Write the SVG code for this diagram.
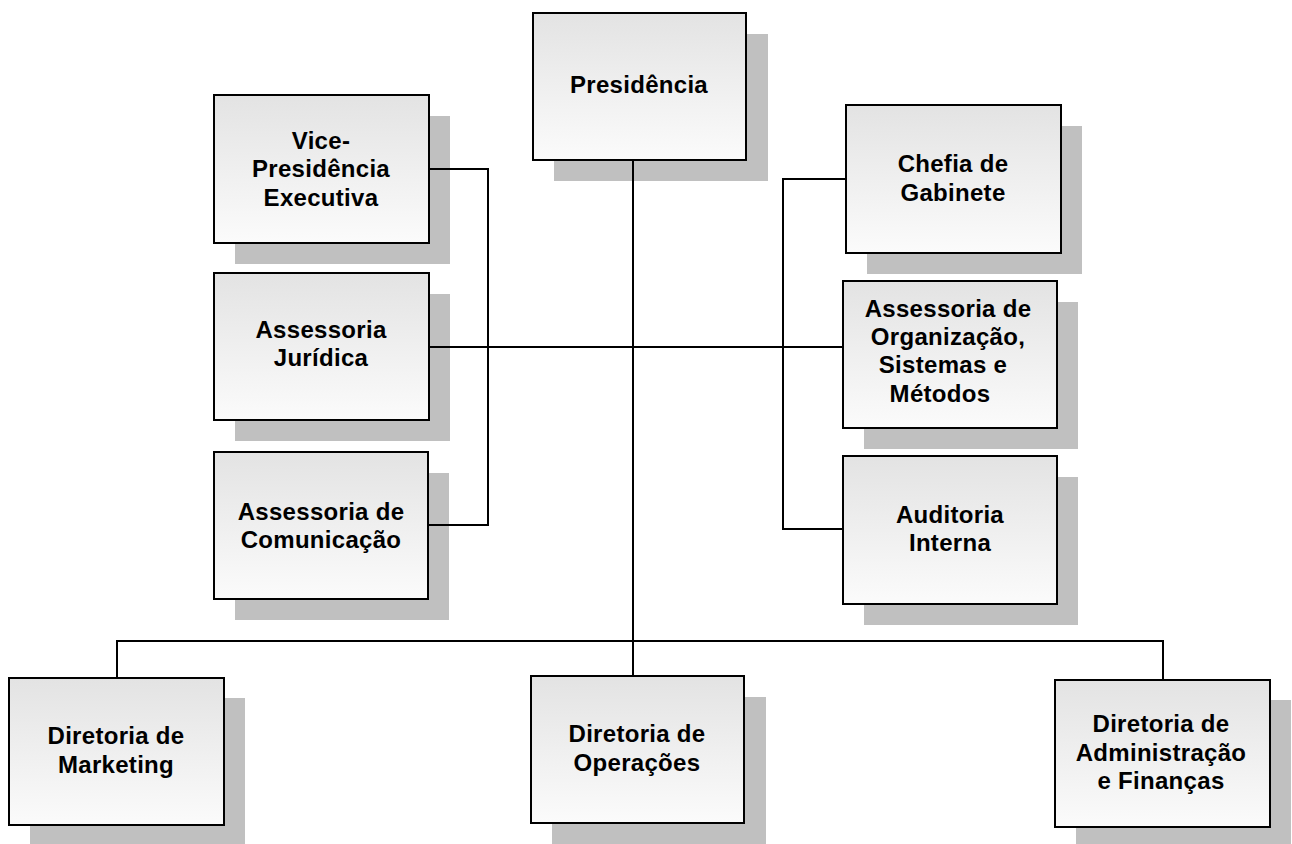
<svg xmlns="http://www.w3.org/2000/svg" width="1292" height="844" viewBox="0 0 1292 844">
  <defs>
    <linearGradient id="boxfill" x1="0" y1="0" x2="0" y2="1">
      <stop offset="0" stop-color="#e3e3e3"/>
      <stop offset="1" stop-color="#fbfbfb"/>
    </linearGradient>
    <style>
      .shadow { fill: #c0c0c0; }
      .box { fill: url(#boxfill); stroke: #000; stroke-width: 2; }
      .lbl { font-family: "Liberation Sans", Arial, sans-serif; font-weight: bold; font-size: 24px; letter-spacing: 0.3px; fill: #000; text-anchor: middle; }
      .conn { fill: none; stroke: #000; stroke-width: 2; }
    </style>
  </defs>
  <rect width="1292" height="844" fill="#fff"/>

  <g id="presidencia">
    <rect class="shadow" x="554" y="34" width="214" height="147"/>
    <rect class="box" x="533" y="13" width="213" height="147"/>
    <text class="lbl" x="639" y="93">Presidência</text>
  </g>

  <g id="vice-presidencia">
    <rect class="shadow" x="235" y="116" width="215" height="148"/>
    <rect class="box" x="214" y="95" width="215" height="148"/>
    <text class="lbl" x="321" y="149">Vice-</text>
    <text class="lbl" x="321" y="177">Presidência</text>
    <text class="lbl" x="321" y="206">Executiva</text>
  </g>

  <g id="assessoria-juridica">
    <rect class="shadow" x="235" y="294" width="215" height="147"/>
    <rect class="box" x="214" y="273" width="215" height="147"/>
    <text class="lbl" x="321" y="338">Assessoria</text>
    <text class="lbl" x="321" y="366">Jurídica</text>
  </g>

  <g id="assessoria-comunicacao">
    <rect class="shadow" x="235" y="473" width="214" height="147"/>
    <rect class="box" x="214" y="452" width="214" height="147"/>
    <text class="lbl" x="321" y="520">Assessoria de</text>
    <text class="lbl" x="321" y="548">Comunicação</text>
  </g>

  <g id="chefia-gabinete">
    <rect class="shadow" x="867" y="126" width="215" height="148"/>
    <rect class="box" x="846" y="105" width="215" height="148"/>
    <text class="lbl" x="953" y="172">Chefia de</text>
    <text class="lbl" x="953" y="201">Gabinete</text>
  </g>

  <g id="assessoria-osm">
    <rect class="shadow" x="864" y="302" width="214" height="147"/>
    <rect class="box" x="843" y="281" width="214" height="147"/>
    <text class="lbl" x="948" y="317">Assessoria de</text>
    <text class="lbl" x="948" y="345">Organização,</text>
    <text class="lbl" x="943" y="373">Sistemas e</text>
    <text class="lbl" x="940" y="402">Métodos</text>
  </g>

  <g id="auditoria-interna">
    <rect class="shadow" x="864" y="477" width="214" height="148"/>
    <rect class="box" x="843" y="456" width="214" height="148"/>
    <text class="lbl" x="950" y="523">Auditoria</text>
    <text class="lbl" x="950" y="551">Interna</text>
  </g>

  <g id="diretoria-marketing">
    <rect class="shadow" x="30" y="698" width="215" height="147"/>
    <rect class="box" x="9" y="678" width="215" height="147"/>
    <text class="lbl" x="116" y="744">Diretoria de</text>
    <text class="lbl" x="116" y="773">Marketing</text>
  </g>

  <g id="diretoria-operacoes">
    <rect class="shadow" x="552" y="697" width="214" height="147"/>
    <rect class="box" x="531" y="676" width="213" height="147"/>
    <text class="lbl" x="637" y="742">Diretoria de</text>
    <text class="lbl" x="637" y="771">Operações</text>
  </g>

  <g id="diretoria-administracao">
    <rect class="shadow" x="1076" y="700" width="215" height="147"/>
    <rect class="box" x="1055" y="680" width="215" height="147"/>
    <text class="lbl" x="1161" y="732">Diretoria de</text>
    <text class="lbl" x="1161" y="761">Administração</text>
    <text class="lbl" x="1161" y="789">e Finanças</text>
  </g>

  <g id="connectors">
    <path class="conn" d="M633 161 V675"/>
    <path class="conn" d="M430 169 H488 V525 H429"/>
    <path class="conn" d="M430 347 H842"/>
    <path class="conn" d="M845 179 H783 V529 H842"/>
    <path class="conn" d="M117 677 V641 H1163 V679"/>
  </g>
</svg>
